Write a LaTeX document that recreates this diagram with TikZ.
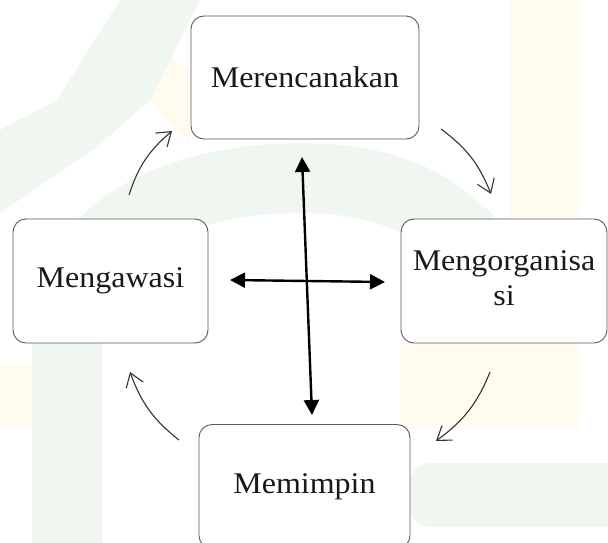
\documentclass[tikz,border=0pt]{standalone}
\usepackage{fontspec}
\setmainfont{Liberation Serif}
\usepackage{graphicx}
\usetikzlibrary{arrows.meta,bending}

\definecolor{framegray}{HTML}{5A5A5A}
\definecolor{cyclegray}{HTML}{333333}
\definecolor{washgreen}{HTML}{F0F7F0}
\definecolor{washcream}{HTML}{FFFCEF}

% slightly condensed lettering for the stage names
\newcommand{\squash}[1]{\scalebox{1}[0.94]{#1}}

\tikzset{
  stage/.style={draw=framegray, line width=0.9pt, rounded corners=13pt,
    fill=white, align=center, inner sep=0pt, text=black!90,
    font=\fontsize{32}{37}\selectfont},
  cyclearrow/.style={draw=cyclegray, line width=1.1pt,
    -{Straight Barb[length=13pt,width=18pt]}, bend left=16},
  linkarrow/.style={line width=2.4pt,
    {Triangle[length=15pt,width=15pt]}-{Triangle[length=15pt,width=15pt]}},
}

\begin{document}
\begin{tikzpicture}[x=1pt,y=1pt]
\clip (0,0) rectangle (608,542);
\useasboundingbox (0,0) rectangle (608,542);
\fill[white] (0,0) rectangle (608,542);

% faint emblem in the background
\fill[washcream] (510,542) rectangle (579,113);
\fill[washcream] (401,199) rectangle (579,113);
\fill[washcream] (0,179) rectangle (45,115);
\fill[washcream] (143,512) -- (190,470) -- (190,397) -- (150,440) -- cycle;
\fill[washgreen, rounded corners=20pt] (410,79) rectangle (640,15);
\fill[washgreen] (120,542) -- (200,542) -- (150,442) -- (97,395)
  -- (0,329) -- (0,412) -- (57,442) -- cycle;
\draw[washgreen, line width=70pt] (67,-30) -- (67,212)
  .. controls (67,312) and (180,364) .. (300,364)
  .. controls (380,364) and (430,342) .. (470,300);

% the four stages
\node[stage, minimum width=228pt, minimum height=123pt] (plan)
  at (305,464.5) {\squash{Merencanakan}};
\node[stage, minimum width=195pt, minimum height=124pt] (control)
  at (110.5,261) {\squash{Mengawasi}};
\node[stage, minimum width=206pt, minimum height=124pt] (organise)
  at (504,261) {\squash{\begin{tabular}{@{}c@{}}Mengorganisa\\si\end{tabular}}};
\node[stage, minimum width=211pt, minimum height=124pt] (lead)
  at (304.5,55.5) {\squash{Memimpin}};

% ends of the cycle arrows
\coordinate (planout) at (441,413);
\coordinate (organin) at (491,348);
\coordinate (organout) at (490,170);
\coordinate (leadin) at (436,101);
\coordinate (leadout) at (179,102);
\coordinate (controlin) at (130,170);
\coordinate (controlout) at (129,347);
\coordinate (planin) at (172,411);

\draw[cyclearrow] (planout) to (organin);
\draw[cyclearrow] (organout) to (leadin);
\draw[cyclearrow] (leadout) to (controlin);
\draw[cyclearrow] (controlout) to (planin);

% central cross of two-way arrows
\coordinate (crossup) at (302,385);
\coordinate (crossdown) at (312,127);
\coordinate (crossleft) at (230,262);
\coordinate (crossright) at (385,260);

\draw[linkarrow] (crossup) -- (crossdown);
\draw[linkarrow] (crossleft) -- (crossright);
\end{tikzpicture}
\end{document}
